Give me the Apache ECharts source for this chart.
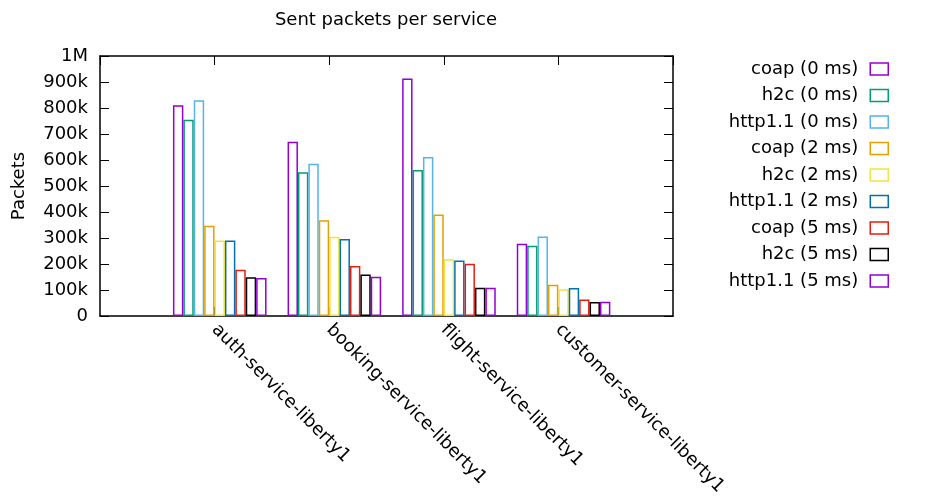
<!DOCTYPE html>
<html>
<head>
<meta charset="utf-8">
<script src="https://cdn.jsdelivr.net/npm/echarts@6/dist/echarts.min.js"></script>
<style>
  html, body { margin: 0; padding: 0; background: #fff; }
  #chart { width: 938px; height: 502px; }
</style>
</head>
<body>
<div id="chart"></div>
<script>
// Services on the x axis
const services = ['auth-service-liberty1', 'booking-service-liberty1', 'flight-service-liberty1', 'customer-service-liberty1'];

// Sent packets per protocol and added latency, one value per service
const coap0  = [811000, 670000, 913000, 278000];
const h2c0   = [755000, 553000, 562000, 270000];
const http0  = [830000, 586000, 612000, 306000];
const coap2  = [347000, 368000, 390000, 120000];
const h2c2   = [290000, 305000, 218000, 103000];
const http2  = [290000, 296000, 213000, 108000];
const coap5  = [178000, 192000, 201000, 63000];
const h2c5   = [149000, 160000, 109000, 54000];
const http5  = [146000, 151000, 109000, 55000];

const seriesNames = ['coap (0 ms)', 'h2c (0 ms)', 'http1.1 (0 ms)',
                     'coap (2 ms)', 'h2c (2 ms)', 'http1.1 (2 ms)',
                     'coap (5 ms)', 'h2c (5 ms)', 'http1.1 (5 ms)'];
const seriesValues = [coap0, h2c0, http0, coap2, h2c2, http2, coap5, h2c5, http5];
const colors = ['#9400d3', '#009e73', '#56b4e9', '#e69f00', '#f0e442', '#0072b2', '#e51e10', '#000000', '#9400d3'];

const FONT = 'DejaVu Sans';
const FS = 18;

function yLabel(v) {
  if (v === 0) return '0';
  if (v >= 1000000) return (v / 1000000) + 'M';
  return (v / 1000) + 'k';
}

const chart = echarts.init(document.getElementById('chart'), null, { renderer: 'canvas' });

const series = seriesValues.map((vals, s) => ({
  name: seriesNames[s],
  type: 'bar',
  barWidth: 10.4,
  barGap: '0%',
  xAxisIndex: 0,
  yAxisIndex: 0,
  itemStyle: { color: '#ffffff', borderColor: colors[s], borderWidth: 1.5 },
  emphasis: { disabled: true },
  data: vals.map((v, i) => [i + 0.045, v])
}));

const frameLine = { show: true, onZero: false, lineStyle: { color: '#000', width: 1.5 } };
const innerTick = { show: true, inside: true, length: 9, lineStyle: { color: '#000' } };

chart.setOption({
  animation: false,
  backgroundColor: '#ffffff',
  textStyle: { fontFamily: FONT, color: '#000' },
  title: {
    text: 'Sent packets per service',
    left: 381,
    top: 6,
    textAlign: 'center',
    textStyle: { fontFamily: FONT, fontSize: FS, fontWeight: 'normal', color: '#000' }
  },
  legend: {
    orient: 'vertical',
    right: 49,
    top: 60,
    padding: 0,
    align: 'right',
    icon: 'rect',
    itemWidth: 18,
    itemHeight: 12,
    itemGap: 8.5,
    selectedMode: false,
    itemStyle: { borderWidth: 1.5 },
    textStyle: { fontFamily: FONT, fontSize: FS, color: '#000', padding: [0, 7, 0, 0] },
    data: seriesNames
  },
  grid: { left: 100, right: 265, top: 56, bottom: 186, containLabel: false },
  xAxis: [
    {
      type: 'value',
      min: -1,
      max: 4,
      interval: 1,
      position: 'bottom',
      splitLine: { show: false },
      axisLine: frameLine,
      axisTick: innerTick,
      axisLabel: {
        rotate: -45,
        margin: 11,
        fontFamily: FONT,
        fontSize: FS,
        color: '#000',
        showMinLabel: false,
        showMaxLabel: false,
        formatter: v => (v >= 0 && v < services.length) ? services[v] : ''
      }
    },
    {
      type: 'value',
      min: -1,
      max: 4,
      interval: 1,
      position: 'top',
      splitLine: { show: false },
      axisLine: frameLine,
      axisTick: innerTick,
      axisLabel: { show: false }
    }
  ],
  yAxis: [
    {
      type: 'value',
      min: 0,
      max: 1000000,
      interval: 100000,
      position: 'left',
      name: 'Packets',
      nameLocation: 'middle',
      nameGap: 72,
      nameTextStyle: { fontFamily: FONT, fontSize: FS, color: '#000' },
      splitLine: { show: false },
      axisLine: frameLine,
      axisTick: innerTick,
      axisLabel: { margin: 12, fontFamily: FONT, fontSize: FS, color: '#000', formatter: yLabel }
    },
    {
      type: 'value',
      min: 0,
      max: 1000000,
      interval: 100000,
      position: 'right',
      splitLine: { show: false },
      axisLine: frameLine,
      axisTick: innerTick,
      axisLabel: { show: false }
    }
  ],
  series: series
});
</script>
</body>
</html>
